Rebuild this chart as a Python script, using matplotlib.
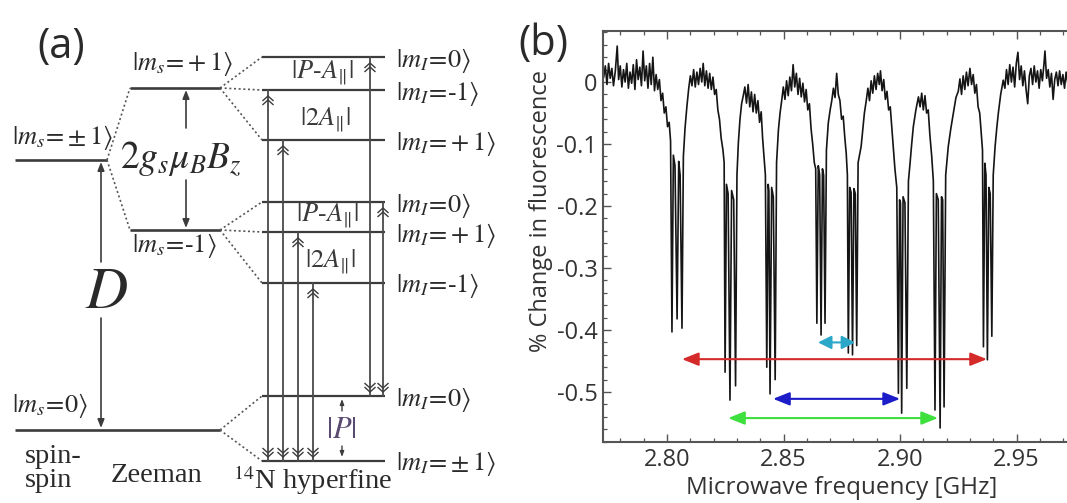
import numpy as np
import matplotlib
matplotlib.use("Agg")
import matplotlib.pyplot as plt
from matplotlib.ticker import MultipleLocator, FixedLocator, FixedFormatter

plt.rcParams["mathtext.fontset"] = "stix"
plt.rcParams["axes.unicode_minus"] = False

# ---------------------------------------------------------------------------
# Panel (b) data: ODMR spectrum (frequency GHz, % change)
# ---------------------------------------------------------------------------
seg_left = [(2.7728, 0.008), (2.7735, 0.026), (2.7742, -0.004), (2.7749, 0.030), (2.7756, 0.006),
            (2.7763, 0.022), (2.7770, -0.006), (2.7778, 0.018), (2.7786, 0.058), (2.7792, 0.004),
            (2.7799, 0.026), (2.7806, -0.008), (2.7813, 0.020), (2.7820, 0.000), (2.7827, 0.030),
            (2.7834, -0.010), (2.7841, 0.016), (2.7848, -0.002), (2.7855, 0.028), (2.7862, -0.012),
            (2.7869, 0.036), (2.7876, 0.004), (2.7883, 0.024), (2.7890, -0.006), (2.7897, 0.050),
            (2.7904, 0.002), (2.7911, 0.026), (2.7918, -0.010), (2.7925, 0.030), (2.7932, -0.004),
            (2.7939, 0.040), (2.7946, -0.014), (2.7953, 0.012), (2.7960, -0.012), (2.7967, 0.004),
            (2.7974, -0.030), (2.7981, -0.018), (2.7988, -0.050), (2.7995, -0.040), (2.8002, -0.072),
            (2.8009, -0.065), (2.8015, -0.095)]
group1 = [(2.8021, -0.403), (2.8027, -0.118), (2.8034, -0.135), (2.8043, -0.382), (2.8050, -0.128),
          (2.8056, -0.150), (2.8064, -0.397), (2.8070, -0.120), (2.8077, -0.075), (2.8085, -0.040),
          (2.8093, -0.010), (2.8100, 0.010)]
bump12 = [(2.8107, -0.006), (2.8114, 0.020), (2.8121, -0.008), (2.8128, 0.016), (2.8135, -0.004),
          (2.8142, 0.022), (2.8149, 0.000), (2.8155, 0.030), (2.8162, -0.006), (2.8169, 0.018),
          (2.8176, -0.010), (2.8183, 0.014), (2.8190, -0.012), (2.8197, 0.008), (2.8204, -0.020),
          (2.8211, -0.012), (2.8218, -0.045), (2.8225, -0.060), (2.8232, -0.090), (2.8240, -0.110),
          (2.8245, -0.130)]
group2 = [(2.8249, -0.468), (2.8255, -0.165), (2.8262, -0.180), (2.8270, -0.513), (2.8277, -0.175),
          (2.8286, -0.190), (2.8294, -0.490), (2.8300, -0.150), (2.8306, -0.098), (2.8313, -0.060),
          (2.8320, -0.035)]
bump23 = [(2.8327, -0.022), (2.8334, -0.008), (2.8341, -0.034), (2.8348, -0.004), (2.8355, -0.040),
          (2.8362, -0.016), (2.8369, -0.048), (2.8376, -0.020), (2.8383, -0.050), (2.8390, -0.030),
          (2.8397, -0.065), (2.8404, -0.048), (2.8410, -0.090), (2.8416, -0.120), (2.8422, -0.150)]
group3 = [(2.8428, -0.460), (2.8434, -0.165), (2.8437, -0.175), (2.8442, -0.503), (2.8449, -0.170),
          (2.8456, -0.185), (2.8464, -0.480), (2.8470, -0.130), (2.8478, -0.077), (2.8485, -0.050)]
bump34 = [(2.8492, -0.030), (2.8499, -0.008), (2.8506, -0.028), (2.8513, 0.002), (2.8520, -0.022),
          (2.8527, 0.008), (2.8534, -0.014), (2.8541, 0.028), (2.8548, -0.008), (2.8555, 0.014),
          (2.8562, -0.020), (2.8569, 0.006), (2.8576, -0.024), (2.8583, -0.002), (2.8590, -0.032),
          (2.8597, -0.012), (2.8604, -0.045), (2.8611, -0.035), (2.8618, -0.075), (2.8625, -0.100),
          (2.8632, -0.130), (2.8638, -0.140)]
group4 = [(2.8643, -0.389), (2.8649, -0.135), (2.8655, -0.150), (2.8661, -0.408), (2.8667, -0.140),
          (2.8672, -0.150), (2.8678, -0.389), (2.8684, -0.110), (2.8692, -0.066), (2.8700, -0.045),
          (2.8707, -0.030)]
bump45 = [(2.8714, -0.010), (2.8721, -0.025), (2.8728, 0.014), (2.8735, -0.020), (2.8742, -0.030),
          (2.8749, -0.060), (2.8756, -0.055), (2.8763, -0.090), (2.8769, -0.115), (2.8774, -0.150)]
group5 = [(2.8778, -0.437), (2.8784, -0.170), (2.8790, -0.178), (2.8796, -0.440), (2.8802, -0.172),
          (2.8808, -0.180), (2.8814, -0.425), (2.8820, -0.130), (2.8833, -0.104), (2.8847, -0.050),
          (2.8855, -0.030)]
bump56 = [(2.8862, -0.010), (2.8869, -0.030), (2.8876, 0.002), (2.8883, -0.018), (2.8890, 0.010),
          (2.8897, -0.012), (2.8904, 0.014), (2.8911, -0.004), (2.8916, 0.018), (2.8923, -0.014),
          (2.8930, 0.004), (2.8937, -0.028), (2.8944, -0.015), (2.8951, -0.045), (2.8958, -0.040),
          (2.8965, -0.075), (2.8971, -0.104), (2.8978, -0.140), (2.8986, -0.170)]
group6 = [(2.8993, -0.502), (2.8998, -0.190), (2.9002, -0.195), (2.9007, -0.534), (2.9013, -0.185),
          (2.9021, -0.195), (2.9029, -0.494), (2.9036, -0.160), (2.9043, -0.131), (2.9050, -0.100),
          (2.9057, -0.072), (2.9068, -0.045), (2.9079, -0.024)]
bump67 = [(2.9086, -0.040), (2.9093, -0.018), (2.9100, -0.045), (2.9107, -0.022), (2.9114, -0.050),
          (2.9121, -0.045), (2.9128, -0.085), (2.9136, -0.120), (2.9143, -0.160)]
group7 = [(2.9150, -0.529), (2.9156, -0.180), (2.9164, -0.190), (2.9172, -0.558), (2.9178, -0.185),
          (2.9183, -0.190), (2.9189, -0.524), (2.9196, -0.150), (2.9207, -0.104), (2.9218, -0.075),
          (2.9229, -0.050), (2.9240, -0.025), (2.9250, -0.015)]
bump78 = [(2.9257, 0.005), (2.9264, -0.020), (2.9271, 0.010), (2.9278, -0.012), (2.9285, 0.016),
          (2.9292, -0.006), (2.9300, 0.022), (2.9307, -0.004), (2.9314, 0.012), (2.9321, -0.018),
          (2.9328, -0.004), (2.9335, -0.040), (2.9342, -0.050), (2.9348, -0.080), (2.9354, -0.110)]
group8 = [(2.9358, -0.427), (2.9364, -0.131), (2.9369, -0.150), (2.9375, -0.448), (2.9381, -0.170),
          (2.9387, -0.180), (2.9394, -0.410), (2.9400, -0.150), (2.9408, -0.104), (2.9415, -0.075),
          (2.9422, -0.050), (2.9432, -0.020), (2.9443, 0.003)]
seg_right = [(2.9450, -0.010), (2.9457, 0.020), (2.9464, -0.004), (2.9471, 0.028), (2.9478, 0.000),
             (2.9485, 0.024), (2.9492, -0.008), (2.9499, 0.030), (2.9506, 0.048), (2.9513, 0.004),
             (2.9520, 0.026), (2.9527, -0.006), (2.9534, 0.018), (2.9541, -0.012), (2.9548, -0.035),
             (2.9555, 0.010), (2.9562, 0.022), (2.9569, -0.004), (2.9576, 0.026), (2.9583, 0.000),
             (2.9590, 0.018), (2.9597, -0.010), (2.9604, 0.020), (2.9611, 0.002), (2.9618, 0.030),
             (2.9622, 0.050), (2.9629, 0.006), (2.9636, 0.020), (2.9643, -0.008), (2.9650, 0.014),
             (2.9657, -0.028), (2.9664, 0.004), (2.9671, 0.016), (2.9678, -0.006), (2.9685, 0.018),
             (2.9692, -0.004), (2.9699, 0.012), (2.9706, -0.010), (2.9713, 0.016), (2.9720, -0.002),
             (2.9727, 0.010), (2.9740, -0.004), (2.9752, 0.012)]

x_ticks = [2.80, 2.85, 2.90, 2.95]
x_tick_labels = ["2.80", "2.85", "2.90", "2.95"]
y_ticks = [0.0, -0.1, -0.2, -0.3, -0.4, -0.5]
y_tick_labels = ["0", "-0.1", "-0.2", "-0.3", "-0.4", "-0.5"]

# splitting arrows (from, to, level)
arrow_from = [2.8064, 2.8648, 2.8455, 2.8262]
arrow_to = [2.9373, 2.8807, 2.9000, 2.9163]
arrow_level = [-0.447, -0.420, -0.511, -0.542]
arrow_colors = ["#d42a2a", "#2ba7c9", "#1c1cc8", "#3ee03e"]

# ---------------------------------------------------------------------------
# Panel (a) data: schematic energy-level diagram (figure pixel units, y down)
# ---------------------------------------------------------------------------
spin_labels = [r"$|m_s\!=\!\pm1\rangle$", r"$|m_s\!=\!+1\rangle$",
               r"$|m_s\!=\!\text{-}1\rangle$", r"$|m_s\!=\!0\rangle$"]
spin_level_y = [160, 88, 230, 430]
spin_level_x0 = [15, 130, 130, 15]
spin_level_x1 = [107, 220, 220, 220]
spin_label_xy = [(12, 138), (132, 63), (132, 246), (12, 405)]

hf_level_y = [57, 90, 140, 202, 232, 283, 396, 461]
hf_parent = [1, 1, 1, 2, 2, 2, 3, 3]
hf_labels = ["0", r"\text{-}1", "+1", "0", "+1", r"\text{-}1", "0", r"\pm1"]
hf_x0, hf_x1 = 262, 385

trans_x = [268, 283, 298, 313, 370, 383]
trans_lower = [461, 461, 461, 461, 396, 396]
trans_upper = [90, 140, 232, 283, 57, 202]

LINE = "#3c3c3c"
TXT = "#2a2a2a"
W, H = 1067, 503

fig = plt.figure(figsize=(10.67, 5.03), dpi=100)
fig.patch.set_facecolor("white")

# ---------------- panel (a) ----------------
ax = fig.add_axes([0, 0, 1, 1])
ax.set_xlim(0, W)
ax.set_ylim(H, 0)
ax.axis("off")

ax.text(61, 47, "(a)", fontsize=30, family="Open Sans", color=TXT, ha="center", va="center")

# spin levels
for y, x0, x1 in zip(spin_level_y, spin_level_x0, spin_level_x1):
    ax.plot([x0, x1], [y, y], color=LINE, lw=1.9, solid_capstyle="butt")
for lab, (lx, ly) in zip(spin_labels, spin_label_xy):
    ax.text(lx, ly, lab, fontsize=19, color=TXT, ha="left", va="center")

# zeeman splitting dotted lines
for child in (1, 2):
    ax.plot([spin_level_x1[0], spin_level_x0[child]], [spin_level_y[0], spin_level_y[child]],
            color="#555555", lw=1.2, ls=(0, (1.2, 1.6)))

# hyperfine levels and dotted connectors
for y, p, lab in zip(hf_level_y, hf_parent, hf_labels):
    ax.plot([hf_x0, hf_x1], [y, y], color=LINE, lw=1.6, solid_capstyle="butt")
    ax.plot([spin_level_x1[p], hf_x0], [spin_level_y[p], y], color="#555555", lw=1.2,
            ls=(0, (1.2, 1.6)))
    ax.text(hf_x1 + 11, y + 3, r"$|m_I\!=\!" + lab + r"\rangle$", fontsize=19, color=TXT,
            ha="left", va="center")


def chevrons(x, y_apex, up):
    s = 1 if up else -1
    for k in range(2):
        ya = y_apex + s * k * 4
        ax.plot([x - 5, x, x + 5], [ya + s * 4.5, ya, ya + s * 4.5], color=LINE, lw=1.0)


for x, yl, yu in zip(trans_x, trans_lower, trans_upper):
    ax.plot([x, x], [yl, yu], color="#4a4a4a", lw=1.3)
    chevrons(x, yu + 6, True)
    chevrons(x, yl - 4, False)

arrow_small = dict(arrowstyle="-|>,head_length=0.5,head_width=0.2", color=LINE, lw=1.2,
                   shrinkA=0, shrinkB=0, mutation_scale=10)
# Zeeman arrow 2 g mu B
ax.annotate("", xy=(186, 90), xytext=(186, 128), arrowprops=arrow_small)
ax.annotate("", xy=(186, 228), xytext=(186, 180), arrowprops=arrow_small)
ax.text(181, 158, r"$2g_s\mu_B B_z$", fontsize=27, color=TXT, ha="center", va="center")

# D arrow
ax.annotate("", xy=(101, 162), xytext=(101, 262), arrowprops=arrow_small)
ax.annotate("", xy=(101, 428), xytext=(101, 318), arrowprops=arrow_small)
ax.text(107, 291, r"$D$", fontsize=42, color=TXT, ha="center", va="center")

# interval labels
ax.text(322, 73, r"$|P\text{-}A_{\|}|$", fontsize=19, color="#3a3a3a", ha="center", va="center")
ax.text(325, 120, r"$|2A_{\|}|$", fontsize=19, color="#3a3a3a", ha="center", va="center")
ax.text(327, 216, r"$|P\text{-}A_{\|}|$", fontsize=19, color="#3a3a3a", ha="center", va="center")
ax.text(330, 262, r"$|2A_{\|}|$", fontsize=19, color="#3a3a3a", ha="center", va="center")
ax.text(341, 430, r"$|P|$", fontsize=22, color="#5a4a70", ha="center", va="center")
arrow_tiny = dict(arrowstyle="-|>,head_length=0.4,head_width=0.15", color=LINE, lw=1.0,
                  shrinkA=0, shrinkB=0, mutation_scale=8)
ax.annotate("", xy=(342, 399), xytext=(342, 411), arrowprops=arrow_tiny)
ax.annotate("", xy=(342, 457), xytext=(342, 446), arrowprops=arrow_tiny)

# captions
cap = dict(fontsize=20.5, family="Liberation Serif", color=TXT, va="baseline")
ax.text(25, 463, "spin-", ha="left", **cap)
ax.text(25, 487, "spin", ha="left", **cap)
ax.text(156, 482, "Zeeman", ha="center", **cap)
ax.text(313, 489, r"$^{14}$N hyperfine", ha="center", **cap)

# ---------------- panel (b) ----------------
fig.text(543, H - 44, "(b)", transform=None, fontsize=30, family="Open Sans", color=TXT,
         ha="center", va="center")

axb = fig.add_axes([603 / W, (H - 442) / H, 472 / W, 411 / H])
spectrum = (seg_left + group1 + bump12 + group2 + bump23 + group3 + bump34 + group4 + bump45
            + group5 + bump56 + group6 + bump67 + group7 + bump78 + group8 + seg_right)
order = np.argsort([p[0] for p in spectrum])
freq_ghz = np.array([p[0] for p in spectrum])[order]
change_pct = np.array([p[1] for p in spectrum])[order]

axb.plot(freq_ghz, change_pct, color="#151515", lw=1.2)

for f0, f1, lev, c in zip(arrow_from, arrow_to, arrow_level, arrow_colors):
    hl = 1.0 if (f1 - f0) > 0.03 else 0.8
    axb.annotate("", xy=(f1, lev), xytext=(f0, lev),
                 arrowprops=dict(arrowstyle=f"<|-|>,head_length={hl},head_width=0.4", color=c,
                                 lw=1.5, shrinkA=0, shrinkB=0, mutation_scale=10))

axb.set_xlim(2.7725, 2.9751)
axb.set_ylim(-0.5806, 0.0823)
axb.xaxis.set_major_locator(FixedLocator(x_ticks))
axb.xaxis.set_major_formatter(FixedFormatter(x_tick_labels))
axb.yaxis.set_major_locator(FixedLocator(y_ticks))
axb.yaxis.set_major_formatter(FixedFormatter(y_tick_labels))
axb.xaxis.set_minor_locator(MultipleLocator(0.01))
axb.yaxis.set_minor_locator(MultipleLocator(0.02))
axb.tick_params(which="both", direction="in", top=True, right=True, color="#555555",
                labelcolor="#333333", labelsize=17, pad=4)
axb.tick_params(which="major", length=6, width=1.0)
axb.tick_params(which="minor", length=3, width=0.9)
for lab in axb.get_xticklabels() + axb.get_yticklabels():
    lab.set_family("Open Sans")
for sp in axb.spines.values():
    sp.set_color("#555555")
    sp.set_linewidth(1.5)

axb.set_xlabel("Microwave frequency [GHz]", fontsize=17.5, family="Open Sans", color="#333333")
axb.set_ylabel("% Change in fluorescence", fontsize=17, family="Open Sans", color="#333333")
axb.xaxis.set_label_coords(0.506, -0.082)
axb.yaxis.set_label_coords(-0.106, 0.562)

fig.savefig("out.png", dpi=100, facecolor="white")
